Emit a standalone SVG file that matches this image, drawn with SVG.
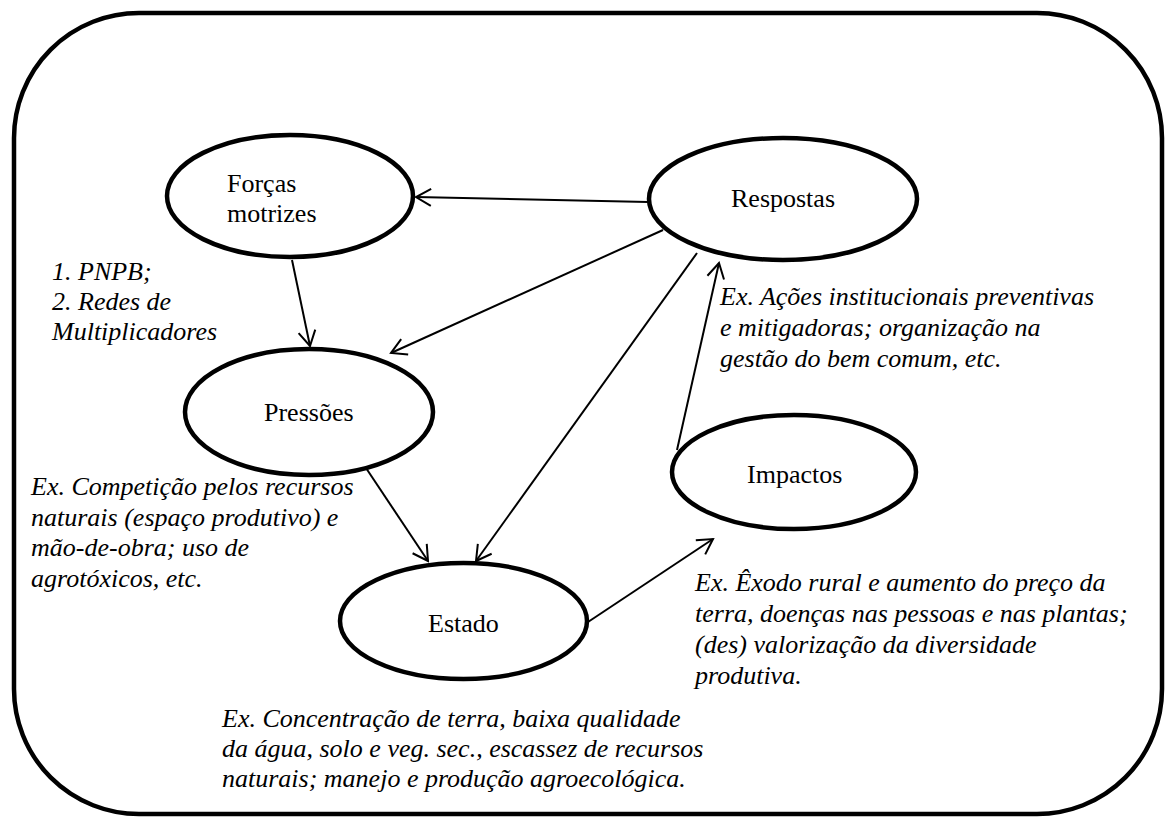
<svg xmlns="http://www.w3.org/2000/svg" width="1167" height="817" viewBox="0 0 1167 817">
<defs>
<marker id="arr" viewBox="-16 -10 18 20" refX="0" refY="0" markerWidth="18" markerHeight="20" markerUnits="userSpaceOnUse" orient="auto">
<path d="M-15,-8.5 L0,0 L-15,8.5" fill="none" stroke="#000" stroke-width="2"/>
</marker>
</defs>
<style>
.frame{fill:none;stroke:#000;stroke-width:4.5}
.node{fill:#fff;stroke:#000;stroke-width:4.5}
.lbl{font-family:"Liberation Serif","Times New Roman",serif;font-size:26px;fill:#000}
.note{font-family:"Liberation Serif","Times New Roman",serif;font-size:26px;font-style:italic;fill:#000}
.edge{fill:none;stroke:#000;stroke-width:2;marker-end:url(#arr)}
</style>
<rect class="frame" x="14" y="13" width="1148" height="801" rx="125" ry="125"/>
<g id="connectors">
<line class="edge" x1="648" y1="202" x2="416" y2="197"/>
<line class="edge" x1="292" y1="260" x2="310" y2="346"/>
<line class="edge" x1="663" y1="230" x2="391" y2="353"/>
<line class="edge" x1="697" y1="253" x2="476" y2="561"/>
<line class="edge" x1="677" y1="450" x2="719" y2="263"/>
<line class="edge" x1="364" y1="465" x2="428" y2="561"/>
<line class="edge" x1="588" y1="622" x2="713" y2="539"/>
</g>
<g id="forcas">
<ellipse class="node" cx="290" cy="196" rx="123" ry="61"/>
<text class="lbl" x="227" y="192">Forças</text>
<text class="lbl" x="227" y="222">motrizes</text>
</g>
<g id="respostas">
<ellipse class="node" cx="783" cy="199" rx="134" ry="61"/>
<text class="lbl" x="731" y="207">Respostas</text>
</g>
<g id="pressoes">
<ellipse class="node" cx="309" cy="412" rx="124" ry="63"/>
<text class="lbl" x="264" y="421">Pressões</text>
</g>
<g id="estado">
<ellipse class="node" cx="463.5" cy="621" rx="123.5" ry="58"/>
<text class="lbl" x="428" y="632">Estado</text>
</g>
<g id="impactos">
<ellipse class="node" cx="794" cy="472" rx="122" ry="57"/>
<text class="lbl" x="747" y="483">Impactos</text>
</g>
<g id="note-forcas">
<text class="note" x="52" y="280">1. PNPB;</text>
<text class="note" x="52" y="310">2. Redes de</text>
<text class="note" x="52" y="340">Multiplicadores</text>
</g>
<g id="note-pressoes">
<text class="note" x="31" y="495">Ex. Competição pelos recursos</text>
<text class="note" x="31" y="526">naturais (espaço produtivo) e</text>
<text class="note" x="31" y="556">mão-de-obra; uso de</text>
<text class="note" x="31" y="587">agrotóxicos, etc.</text>
</g>
<g id="note-respostas">
<text class="note" x="720" y="305">Ex. Ações institucionais preventivas</text>
<text class="note" x="720" y="336">e mitigadoras; organização na</text>
<text class="note" x="720" y="367">gestão do bem comum, etc.</text>
</g>
<g id="note-impactos">
<text class="note" x="695" y="591">Ex. Êxodo rural e aumento do preço da</text>
<text class="note" x="695" y="622">terra, doenças nas pessoas e nas plantas;</text>
<text class="note" x="695" y="653">(des) valorização da diversidade</text>
<text class="note" x="695" y="684">produtiva.</text>
</g>
<g id="note-estado">
<text class="note" x="222" y="727">Ex. Concentração de terra, baixa qualidade</text>
<text class="note" x="222" y="757">da água, solo e veg. sec., escassez de recursos</text>
<text class="note" x="222" y="787">naturais; manejo e produção agroecológica.</text>
</g>
</svg>
